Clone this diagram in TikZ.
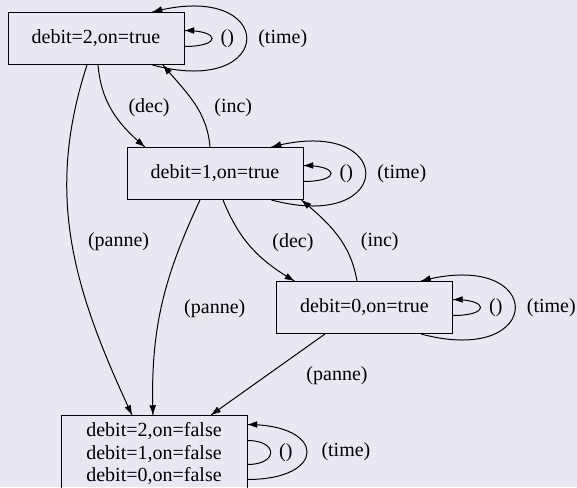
\documentclass[tikz,border=0pt]{standalone}
\usepackage{fontspec}
\setmainfont{Liberation Serif}
\usepackage{tikz}
\usetikzlibrary{positioning, arrows.meta, decorations.markings}
\definecolor{bgcol}{RGB}{232,232,242}
\tikzstyle{Arrow} = [
line width=1pt,
decoration={
markings,
mark=at position 0.9999 with {
\arrow{Triangle[length=10pt, width=7pt]}}},
preaction = {decorate}]
\tikzstyle{State} = [draw, line width=1pt, minimum width=176pt,
minimum height=52pt, font=\fontsize{20}{22.5}\selectfont]
\tikzstyle{Label} = [inner sep=0pt, font=\fontsize{20}{22.5}\selectfont]

\begin{document}
\begin{tikzpicture}[x=1pt, y=1pt]
    \useasboundingbox (0,0) rectangle (577,487);
    \fill[bgcol] (0,0) rectangle (577,487);

    \node [State] (1) at (96,448.5) {debit=2,on=true};
    \node [State, below=82pt of 1, xshift=119pt] (2) {debit=1,on=true};
    \node [State, below=81pt of 2, xshift=149.5pt] (3) {debit=0,on=true};
    \node [State, below=215pt of 2, xshift=-61pt, minimum width=186pt,
        minimum height=76pt, align=center] (4)
        {debit=2,on=false\\debit=1,on=false\\debit=0,on=false};

    % dec / inc between the "on" states
    \draw[Arrow] ([xshift=2pt]1.south) to [out=-85, in=140]
        node[Label, midway, xshift=37pt, yshift=3pt] (d1) {(dec)}
        ([xshift=-70pt]2.north);
    \draw[Arrow] ([xshift=-5pt]2.north) to [out=95, in=-50]
        node[Label, midway, xshift=39pt, yshift=-5pt] (i1) {(inc)}
        ([xshift=67pt]1.south);
    \draw[Arrow] ([xshift=8pt]2.south) to [out=-68, in=150]
        node[Label, midway, xshift=42pt, yshift=5pt] (d2) {(dec)}
        ([xshift=-70pt]3.north);
    \draw[Arrow] ([xshift=-7.5pt]3.north) to [out=100, in=-40]
        node[Label, midway, xshift=42pt, yshift=-6pt] (i2) {(inc)}
        ([xshift=-2pt]2.south east);

    % panne
    \draw[Arrow] ([xshift=-9pt]1.south) to [out=-108, in=115]
        node[Label, midway, xshift=47pt, yshift=1pt] (p1) {(panne)}
        ([xshift=-22pt]4.north);
    \draw[Arrow] ([xshift=-15pt]2.south) to [out=-115, in=92]
        node[Label, midway, xshift=53pt, yshift=-4.5pt] (p2) {(panne)}
        ([xshift=-1pt]4.north);
    \draw[Arrow] ([xshift=-39.5pt]3.south) --
        node[Label, midway, xshift=69pt, yshift=-1pt] (p3) {(panne)}
        ([xshift=57pt]4.north);

    % self loops
    \foreach \n in {1,2,3} {
        \draw[Arrow] ([yshift=-8pt]\n.east) to [out=0, in=0, looseness=5.9]
            node[Label, midway, right=8pt] (e\n) {()}
            ([yshift=8pt]\n.east);
        \draw[Arrow] ([xshift=-32pt]\n.south east) to [out=-15, in=15, looseness=6.3]
            node[Label, midway, right=11pt] (t\n) {(time)}
            ([xshift=-32pt]\n.north east);
    }
    \draw[Arrow] ([yshift=-11pt]4.east) to [out=0, in=0, looseness=3.3]
        node[Label, midway, right=8pt] (e4) {()}
        ([yshift=13pt]4.east);
    \draw[Arrow] ([yshift=-26pt]4.east) to [out=0, in=0, looseness=3.7]
        node[Label, midway, right=14pt] (t4) {(time)}
        ([yshift=29pt]4.east);
\end{tikzpicture}
\end{document}
